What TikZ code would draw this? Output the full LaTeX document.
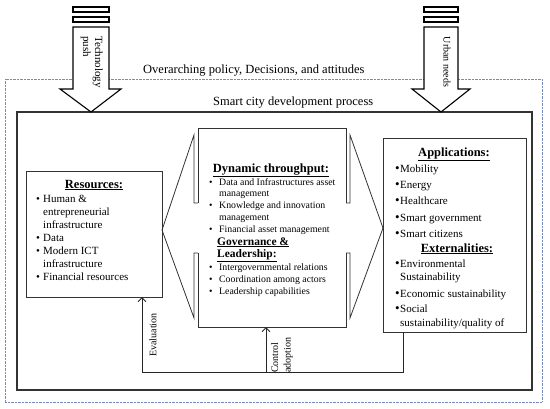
\documentclass[tikz,border=0pt]{standalone}
\usepackage{fontspec}
\setmainfont{Liberation Serif}
\usetikzlibrary{arrows.meta}
\definecolor{dotblue}{RGB}{118,138,190}
\newcommand\blr{\makebox[7pt][l]{\textbullet}}
\newcommand\blc{\makebox[10pt][l]{\textbullet}}
\newcommand\bla{\makebox[5pt][l]{{\fontsize{13}{13}\selectfont\textbullet}}}
\begin{document}
\begin{tikzpicture}[x=1pt,y=-1pt,
  box/.style={draw=black!80, line width=1pt, inner sep=0pt, outer sep=0pt},
  hexline/.style={draw=black!80, line width=0.8pt, line join=miter},
  bigarrow/.style={draw=black, line width=1.1pt, fill=white, line join=miter},
  tr/.style={inner sep=0pt, anchor=base west, font=\fontsize{11}{13}\selectfont},
  tc/.style={inner sep=0pt, anchor=base west, font=\fontsize{9.8}{12}\selectfont},
  hd/.style={inner sep=0pt, anchor=base, font=\fontsize{12.5}{14}\selectfont\bfseries},
  hdl/.style={inner sep=0pt, anchor=base west, font=\fontsize{11.5}{14}\selectfont\bfseries},
  ttl/.style={inner sep=0pt, anchor=base west, font=\fontsize{12.5}{14}\selectfont},
  fbline/.style={draw=black!85, line width=1pt},
  fb/.style={fbline, -{Straight Barb[length=4pt,width=8pt,line width=1pt]}},
]
\useasboundingbox (0,0) rectangle (550,408);

% outer dotted frame and inner process box
\node[draw=dotblue, dash pattern=on 0.7pt off 0.7pt, line width=0.9pt,
      minimum width=537pt, minimum height=323pt, inner sep=0pt, outer sep=0pt] (outer) at (273.5,240.5) {};
\node[box, line width=1.2pt, minimum width=515pt, minimum height=278pt] (inner) at (274.5,251) {};

% titles
\node[ttl] (over) at (143,73) {Overarching policy, Decisions, and attitudes};
\node[ttl] (proc) at (213,105) {Smart city development process};

% Technology push arrow
\draw[bigarrow] (73,7) rectangle (109,12);
\draw[bigarrow] (73,17) rectangle (109,22);
\draw[bigarrow] (73,27) -- (109,27) -- (109,89) -- (121,89) -- (91,112) -- (60,89) -- (73,89) -- cycle;
\node[rotate=-90, anchor=north west, align=left, inner sep=0pt,
      font=\fontsize{11}{12}\selectfont] (tech) at (103,36) {Technology\\push};

% Urban needs arrow
\draw[bigarrow] (424,7) rectangle (458,12);
\draw[bigarrow] (424,17) rectangle (458,22);
\draw[bigarrow] (424,27) -- (458,27) -- (458,89) -- (470,89) -- (441,112) -- (412,89) -- (424,89) -- cycle;
\node[rotate=-90, inner sep=0pt, font=\fontsize{10}{12}\selectfont] (urban) at (447,62) {Urban needs};

% Resources box
\node[box, minimum width=136pt, minimum height=126pt] (res) at (94,234) {};
\node[hd] (resh) at (94,188) {\underline{Resources:}};
\node[tr] (r1) at (36,202) {\blr Human \&};
\node[tr] (r2) at (43,215) {entrepreneurial};
\node[tr] (r3) at (43,228) {infrastructure};
\node[tr] (r4) at (36,241) {\blr Data};
\node[tr] (r5) at (36,254) {\blr Modern ICT};
\node[tr] (r6) at (43,267) {infrastructure};
\node[tr] (r7) at (36,280) {\blr Financial resources};

% Central throughput box with hexagon sides
\node[minimum width=148pt, minimum height=199pt, inner sep=0pt, outer sep=0pt] (thr) at (272,227.5) {};
\draw[box] (198,203) -- (198,128) -- (346,128) -- (346,203);
\draw[box] (198,253) -- (198,327) -- (346,327) -- (346,253);
\draw[hexline] (198,203) -- (194,203) -- (194,135) -- (162,230) -- (194,318) -- (194,253) -- (198,253);
\draw[hexline] (346,203) -- (350,203) -- (350,135) -- (383,228) -- (350,318) -- (350,253) -- (346,253);
\node[hd] (thrh) at (271,172) {\underline{Dynamic throughput:}};
\node[tc] (c1) at (209,185) {\blc Data and Infrastructures asset};
\node[tc] (c2) at (219,196) {management};
\node[tc] (c3) at (209,208) {\blc Knowledge and innovation};
\node[tc] (c4) at (219,220) {management};
\node[tc] (c5) at (209,232) {\blc Financial asset management};
\node[hdl] (govh1) at (217,245) {\underline{Governance \&}};
\node[hdl] (govh2) at (217,257) {\underline{Leadership:}};
\node[tc] (c6) at (209,270) {\blc Intergovernmental relations};
\node[tc] (c7) at (209,282) {\blc Coordination among actors};
\node[tc] (c8) at (209,294) {\blc Leadership capabilities};

% Applications box
\node[box, minimum width=143pt, minimum height=194pt] (app) at (454.5,235) {};
\node[hd] (apph) at (454,156) {\underline{Applications:}};
\node[tr] (a1) at (395,172) {\bla Mobility};
\node[tr] (a2) at (395,188) {\bla Energy};
\node[tr] (a3) at (395,204) {\bla Healthcare};
\node[tr] (a4) at (395,221) {\bla Smart government};
\node[tr] (a5) at (395,237) {\bla Smart citizens};
\node[hd] (exth) at (457,252) {\underline{Externalities:}};
\node[tr] (a6) at (395,267) {\bla Environmental};
\node[tr] (a7) at (400,280) {Sustainability};
\node[tr] (a8) at (395,297) {\bla Economic sustainability};
\node[tr] (a9) at (395,312) {\bla Social};
\node[tr] (a10) at (400,326) {sustainability/quality of};

% feedback loop
\coordinate (evb) at (142,372);
\coordinate (ctb) at (266,372);
\coordinate (apb) at (403,372);
\draw[fbline] (evb) -- (apb) -- (apb |- app.south);
\draw[fb] (evb) -- (evb |- res.south);
\draw[fb] (ctb) -- (ctb |- thr.south);
\node[rotate=90, inner sep=0pt, font=\fontsize{10}{12}\selectfont] (eval) at (153,335) {Evaluation};
\node[rotate=90, anchor=north west, align=left, inner sep=0pt,
      font=\fontsize{10}{12.5}\selectfont] (ctl) at (271,373) {Control\\adoption};
\end{tikzpicture}
\end{document}
